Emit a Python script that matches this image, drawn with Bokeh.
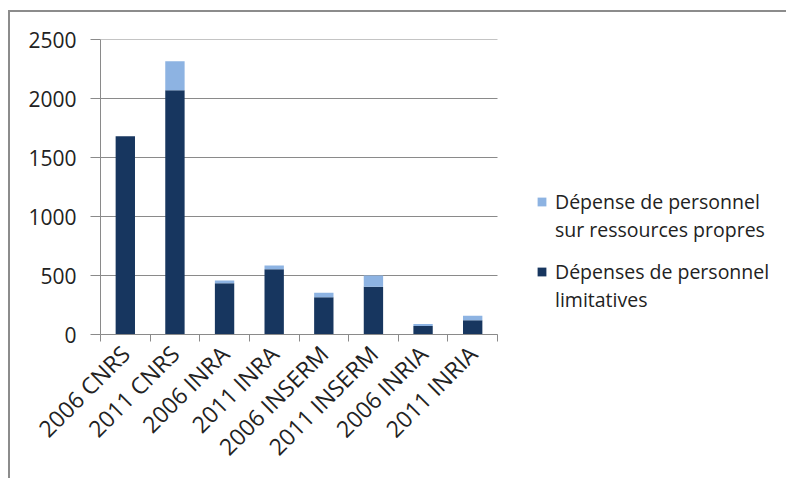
from bokeh.plotting import figure
from bokeh.models import ColumnDataSource, FixedTicker, Range1d, Legend, LegendItem
from bokeh.embed import file_html
from bokeh.resources import INLINE

categories = ["2006 CNRS", "2011 CNRS", "2006 INRA", "2011 INRA",
              "2006 INSERM", "2011 INSERM", "2006 INRIA", "2011 INRIA"]
limitatives = [1680, 2070, 435, 553, 316, 405, 73, 120]
ressources_propres = [0, 245, 22, 32, 37, 95, 17, 38]
y_ticks = [0, 500, 1000, 1500, 2000, 2500]

label_rp = ["Dépense de personnel", "sur ressources propres"]
label_limit = ["Dépenses de personnel", "limitatives"]

DARK = "#17365f"
LIGHT = "#8db3e2"
GRID = "#8a8a8a"
FONT = "Open Sans"

n = len(categories)
xs = [i + 0.5 for i in range(n)]
src = ColumnDataSource(dict(x=xs, top_lim=limitatives,
                            top_all=[a + b for a, b in zip(limitatives, ressources_propres)]))

# layout (pixels)
LEFT, TOP = 90, 27
PLOT_W, PLOT_H = 397, 295      # width of the bar area, height of the frame
FRAME_W = 680                  # frame extends right to hold the legend
W = LEFT + FRAME_W + 8
H = 468

p = figure(width=W, height=H, output_backend="svg", toolbar_location=None,
           x_range=Range1d(0, n * FRAME_W / PLOT_W), y_range=Range1d(0, 2500))
p.min_border_left = LEFT
p.min_border_top = TOP
p.min_border_bottom = H - TOP - PLOT_H
p.min_border_right = 8
p.outline_line_color = None
p.background_fill_color = "white"
p.border_fill_color = "white"
p.styles = {"border-top": "2px solid #8c8c8c", "border-left": "2px solid #8c8c8c",
            "margin-left": "8px", "margin-top": "10px"}

# horizontal gridlines limited to the bar area
p.segment(x0=[0] * len(y_ticks), x1=[n] * len(y_ticks), y0=y_ticks, y1=y_ticks,
          line_color=GRID, line_width=1)

r_lim = p.vbar(x="x", bottom=0, top="top_lim", width=0.39, source=src,
               fill_color=DARK, line_color=None)
r_rp = p.vbar(x="x", bottom="top_lim", top="top_all", width=0.39, source=src,
              fill_color=LIGHT, line_color=None)
r_blank = p.vbar(x=[], bottom=[], top=[], width=0.39,
                 fill_alpha=0, line_alpha=0)

# y axis
p.yaxis.ticker = FixedTicker(ticks=y_ticks)
p.yaxis.axis_line_color = GRID
p.yaxis.major_tick_line_color = GRID
p.yaxis.major_tick_in = 0
p.yaxis.major_tick_out = 10
p.yaxis.minor_tick_line_color = None
p.yaxis.major_label_text_font = FONT
p.yaxis.major_label_text_font_size = "21px"
p.yaxis.major_label_text_color = "#222222"
p.yaxis.major_label_standoff = 14

# x axis
p.xaxis.bounds = (0, n)
p.xaxis.ticker = FixedTicker(ticks=xs, minor_ticks=list(range(n + 1)))
p.xaxis.major_label_overrides = {x: c for x, c in zip(xs, categories)}
p.xaxis.major_label_orientation = 0.785398
p.xaxis.axis_line_color = GRID
p.xaxis.major_tick_line_color = None
p.xaxis.minor_tick_line_color = GRID
p.xaxis.minor_tick_in = 0
p.xaxis.minor_tick_out = 7
p.xaxis.major_label_text_font = FONT
p.xaxis.major_label_text_font_size = "23px"
p.xaxis.major_label_text_color = "#222222"
p.xaxis.major_label_standoff = 8

p.xgrid.grid_line_color = None
p.ygrid.grid_line_color = None


def make_legend(lines, renderer, loc):
    lg = Legend(items=[LegendItem(label=lines[0], renderers=[renderer]),
                       LegendItem(label=lines[1], renderers=[r_blank])],
                location=loc, orientation="vertical")
    lg.border_line_color = None
    lg.background_fill_alpha = 0
    lg.label_text_font = FONT
    lg.label_text_font_size = "19.5px"
    lg.label_text_color = "#222222"
    lg.label_height = 28
    lg.glyph_width = 11
    lg.glyph_height = 11
    lg.spacing = 0
    lg.padding = 0
    lg.margin = 0
    lg.label_standoff = 8
    return lg


p.add_layout(make_legend(label_rp, r_rp, (436, 91)), "center")
p.add_layout(make_legend(label_limit, r_lim, (436, 21)), "center")

open("out.html", "w").write(file_html(p, INLINE))
